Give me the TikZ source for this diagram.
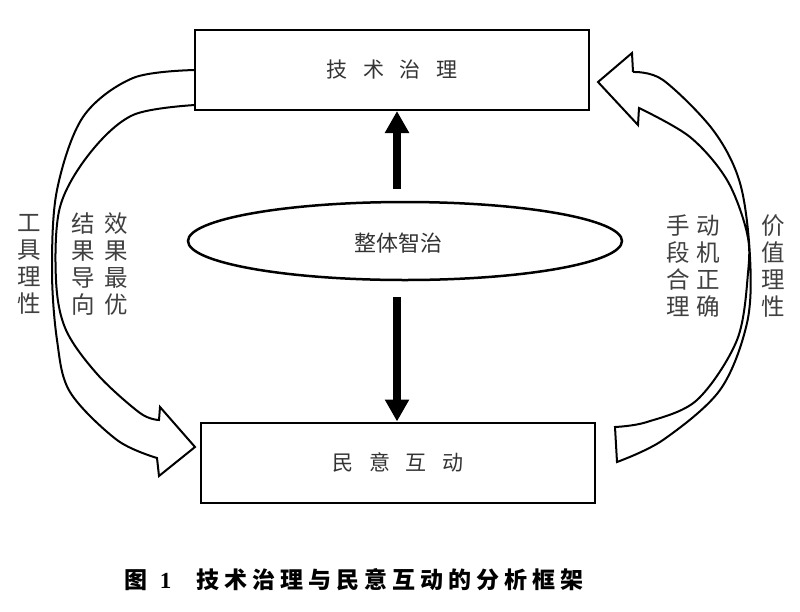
\documentclass[tikz,border=0pt]{standalone}
\usepackage{fontspec}
\newfontfamily\cjk{Noto Sans CJK SC}
\newfontfamily\numfont{Liberation Serif}
\usetikzlibrary{shapes.geometric,arrows.meta}
\newcommand{\bxg}{\hspace{0.74em}}
\newcommand{\cpg}{\hspace{5pt}}
\tikzset{
  box/.style={draw, line width=2pt, minimum width=394pt, minimum height=80pt, inner sep=0pt,
    font=\cjk\fontsize{21}{21}\selectfont, text=black!80},
  ellbox/.style={draw, ellipse, line width=2.5pt, minimum width=434pt, minimum height=78pt, inner sep=0pt},
  elltext/.style={font=\cjk\fontsize{22}{22}\selectfont, text=black!80, inner sep=0pt},
  vtext/.style={align=center, font=\cjk\fontsize{23.5}{27}\selectfont, text=black!75, inner sep=0pt},
  fatline/.style={line width=2pt, line join=miter},
  bigarrow/.style={line width=8pt, -{Triangle[width=23pt,length=22pt]}},
  captext/.style={font=\cjk\bfseries\fontsize{23}{23}\selectfont, inner sep=0pt, anchor=west}
}
\begin{document}
\begin{tikzpicture}[x=1pt,y=-1pt]
\useasboundingbox[fill=white] (0,0) rectangle (800,611);

% boxes
\node[box] (top) at (392,70) {\raisebox{-2pt}{技\bxg 术\bxg 治\bxg 理}};
\node[box] (bot) at (398,462.5) {\raisebox{-4pt}{民\bxg 意\bxg 互\bxg 动}};

% ellipse
\node[ellbox] (ell) at (405,241) {};
\node[elltext] (ellt) at (398,243) {整体智治};

% straight arrows
\coordinate (upstart) at (397,189);
\coordinate (dnstart) at (397,297);
\draw[bigarrow] (upstart) -- (upstart |- top.south);
\draw[bigarrow] (dnstart) -- (dnstart |- bot.north);

% left curved arrow
\draw[fatline] plot[smooth, tension=0.55] coordinates {(195,70) (133,78) (83,117) (57,190) (52,270) (57,340) (70,392) (117,440) (157,458)}
  -- (159,476) -- (195,447) -- (160,407) -- (159,420)
  -- plot[smooth, tension=0.55] coordinates {(159,420) (140,413) (98,375) (66,330) (56,280) (60,207) (90,153) (133,115) (195,105)};

% right curved arrow
\draw[fatline] plot[smooth, tension=0.55] coordinates {(633,72) (663,80) (713,130) (740,183) (750,257) (747,323) (720,390) (663,440) (617,462)}
  -- (615,427)
  -- plot[smooth, tension=0.55] coordinates {(615,427) (647,422) (697,400) (737,340) (748,273) (747,233) (727,180) (690,137) (639,108)}
  -- (638,125) -- (598,82) -- (632,53) -- (633,72);

% vertical labels
\node[vtext] (l1) at (29,264) {工\\具\\理\\性};
\node[vtext] (l2) at (83.5,264) {结\\果\\导\\向};
\node[vtext] (l3) at (116,264) {效\\果\\最\\优};
\node[vtext] (r1) at (678,266) {手\\段\\合\\理};
\node[vtext] (r2) at (708,266) {动\\机\\正\\确};
\node[vtext] (r3) at (773,266) {价\\值\\理\\性};

% caption
\node[captext] (capa) at (124,580) {图\hspace{0.55em}{\numfont\bfseries 1}};
\node[captext] (capb) at (196,580) {技\cpg 术\cpg 治\cpg 理\cpg 与\cpg 民\cpg 意\cpg 互\cpg 动\cpg 的\cpg 分\cpg 析\cpg 框\cpg 架};
\end{tikzpicture}
\end{document}
